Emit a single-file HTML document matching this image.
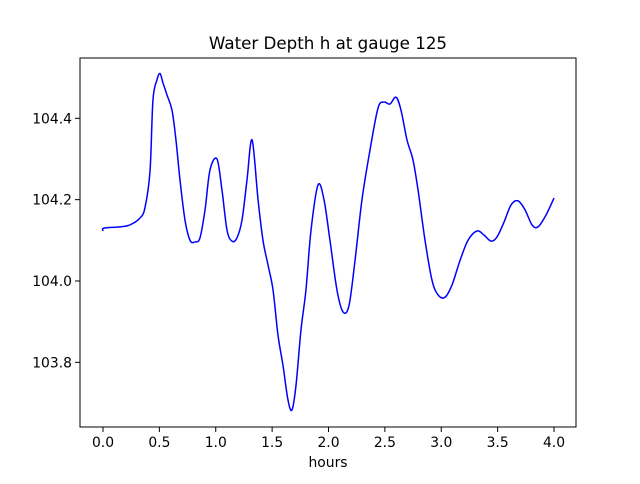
<!DOCTYPE html>
<html><head><meta charset="utf-8"><style>
body{margin:0;background:#fff;font-family:"DejaVu Sans","Liberation Sans",sans-serif;}
svg text{font-family:"DejaVu Sans","Liberation Sans",sans-serif;fill:#000;}
</style></head><body>
<svg id="chart" width="640" height="480" viewBox="0 0 640 480">
<rect x="0" y="0" width="640" height="480" fill="#fff"/>
<text x="328" y="49" font-size="16.7" text-anchor="middle">Water Depth h at gauge 125</text>
<g id="ticks"></g>
<path id="line" fill="none" stroke="#0000ff" stroke-width="1.5"/>
<rect x="80" y="58" width="496" height="369" fill="none" stroke="#000" stroke-width="1"/>
<text x="328" y="467" font-size="13.9" text-anchor="middle">hours</text>
</svg>
<script>
const hours=[0,0.009,0.151,0.239,0.328,0.372,0.417,0.443,0.479,0.506,0.532,0.568,0.612,0.647,0.683,0.727,0.772,0.816,0.860,0.905,0.949,1.011,1.055,1.100,1.144,1.188,1.233,1.277,1.322,1.375,1.419,1.463,1.508,1.552,1.596,1.641,1.676,1.712,1.756,1.800,1.845,1.907,1.960,2.013,2.075,2.129,2.182,2.235,2.297,2.368,2.439,2.492,2.545,2.599,2.643,2.696,2.749,2.794,2.856,2.918,2.971,3.033,3.095,3.166,3.237,3.317,3.379,3.441,3.494,3.557,3.619,3.681,3.743,3.805,3.858,3.929,4.0];
const depth=[104.123,104.13,104.133,104.138,104.155,104.18,104.27,104.445,104.495,104.51,104.487,104.457,104.42,104.347,104.248,104.15,104.1,104.096,104.106,104.175,104.273,104.3,104.224,104.125,104.098,104.106,104.15,104.248,104.347,104.2,104.1,104.04,103.978,103.867,103.793,103.707,103.683,103.744,103.88,103.978,104.125,104.236,104.2,104.1,103.978,103.924,103.94,104.05,104.2,104.322,104.425,104.44,104.435,104.452,104.42,104.347,104.298,104.224,104.1,104.002,103.966,103.96,103.99,104.05,104.1,104.123,104.113,104.098,104.108,104.145,104.187,104.197,104.175,104.138,104.133,104.162,104.204];
const xTicks=[0,0.5,1,1.5,2,2.5,3,3.5,4];
const yTicks=[103.8,104.0,104.2,104.4];
const xs=v=>103+v*112.75;
const ys=v=>281-(v-104)*406.7;
const NS="http://www.w3.org/2000/svg";
const g=document.getElementById('ticks');
function mk(t,a){const e=document.createElementNS(NS,t);for(const k in a)e.setAttribute(k,a[k]);g.appendChild(e);return e;}
xTicks.forEach(v=>{
 const l=mk('line',{x1:xs(v),x2:xs(v),y1:427,y2:432,stroke:'#000'});
 
 
 const t=mk('text',{x:xs(v),y:447,'font-size':13.9,'text-anchor':'middle'});
 t.textContent=v.toFixed(1);
 
 
});
yTicks.forEach(v=>{
 const l=mk('line',{x1:75,x2:80,y1:ys(v),y2:ys(v),stroke:'#000'});
 
 
 const t=mk('text',{x:72,y:ys(v)+5,'font-size':13.9,'text-anchor':'end'});
 t.textContent=v.toFixed(1);
 
 
});
const P=hours.map((h,i)=>[xs(h),ys(depth[i])]);
let d='M'+P[0][0]+','+P[0][1];
for(let i=0;i<P.length-1;i++){
 const p0=P[i-1]||P[i],p1=P[i],p2=P[i+1],p3=P[i+2]||P[i+1];
 const c1=[p1[0]+(p2[0]-p0[0])/6,p1[1]+(p2[1]-p0[1])/6];
 const c2=[p2[0]-(p3[0]-p1[0])/6,p2[1]-(p3[1]-p1[1])/6];
 d+=' C'+c1+' '+c2+' '+p2;
}
document.getElementById('line').setAttribute('d',d);
</script>
</body></html>
